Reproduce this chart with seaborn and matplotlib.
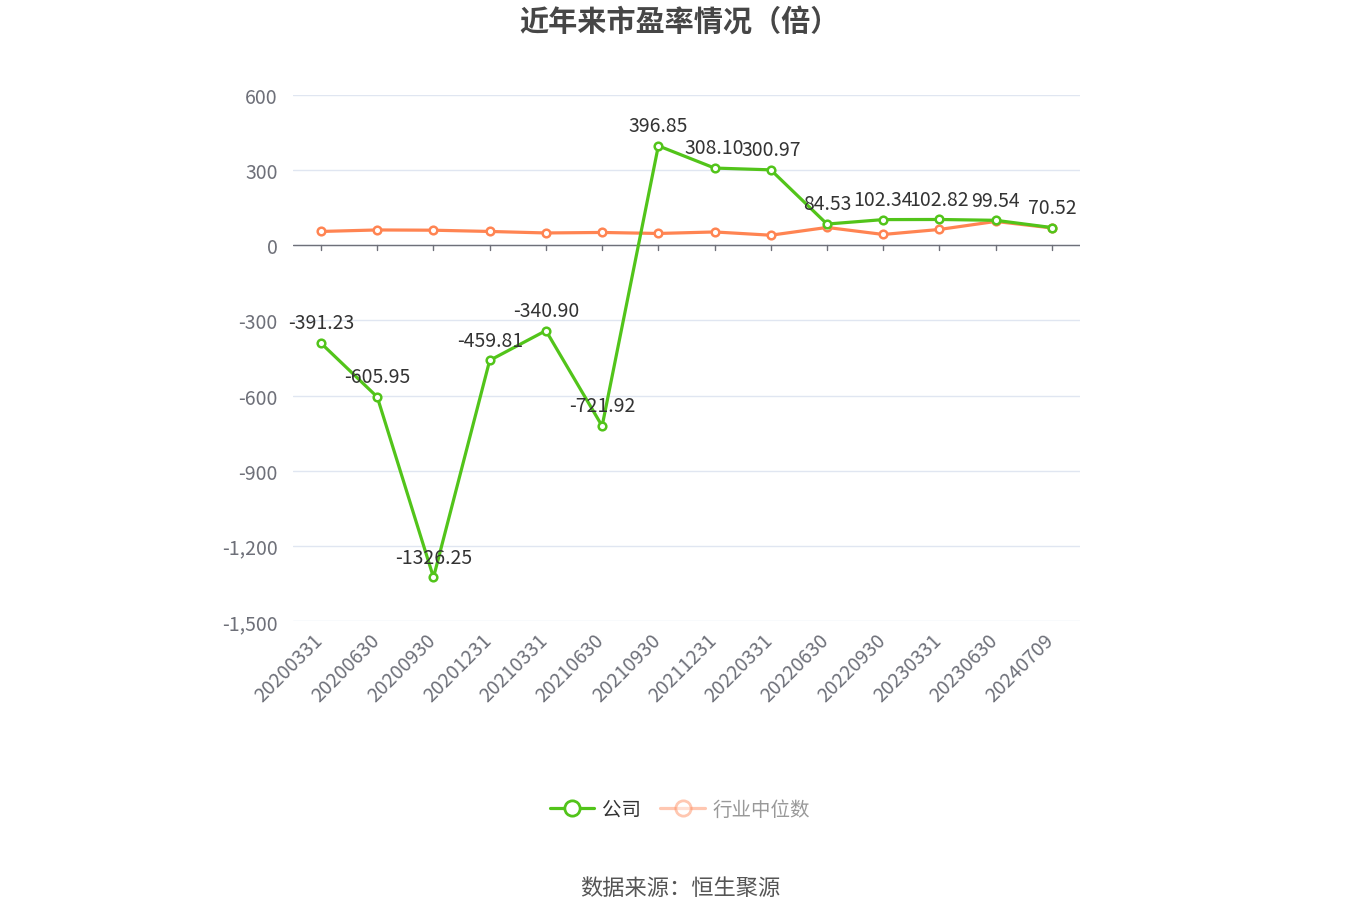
import matplotlib
matplotlib.use("Agg")
import matplotlib.pyplot as plt
import matplotlib.transforms as mtransforms
import seaborn as sns
import pandas as pd
import numpy as np
from matplotlib.lines import Line2D
from matplotlib.ticker import FuncFormatter

dates = ["20200331", "20200630", "20200930", "20201231", "20210331", "20210630",
         "20210930", "20211231", "20220331", "20220630", "20220930", "20230331",
         "20230630", "20240709"]
company = [-391.23, -605.95, -1326.25, -459.81, -340.90, -721.92, 396.85,
           308.10, 300.97, 84.53, 102.34, 102.82, 99.54, 70.52]
industry = [55, 61, 60, 55, 49, 51, 47, 53, 40, 71, 43, 63, 95, 69]
yticks = [600, 300, 0, -300, -600, -900, -1200, -1500]

sns.set_theme(style="white")
plt.rcParams['font.family'] = ['Noto Sans CJK SC', 'DejaVu Sans']

GREEN = "#52c41a"
ORANGE = "#ff8452"

df = pd.DataFrame({"x": np.arange(len(dates)), "company": company, "industry": industry})

fig = plt.figure(figsize=(13.6, 9.2), dpi=100)
ax = fig.add_axes([0.2154, 0.324, 0.5787, 0.5717])

sns.lineplot(data=df, x="x", y="industry", ax=ax, color=ORANGE, linewidth=2.3,
             marker="o", markersize=5.5, markerfacecolor="white",
             markeredgecolor=ORANGE, markeredgewidth=1.8, zorder=3)
sns.lineplot(data=df, x="x", y="company", ax=ax, color=GREEN, linewidth=2.3,
             marker="o", markersize=5.5, markerfacecolor="white",
             markeredgecolor=GREEN, markeredgewidth=1.8, zorder=4)

for i, v in enumerate(company):
    ax.annotate(f"{v:.2f}", (i, v), xytext=(0, 7), textcoords="offset points",
                ha="center", va="bottom", fontsize=14, color="#333333", zorder=5)

ax.set_xlim(-0.5, len(dates) - 0.5)
ax.set_ylim(-1500, 600)
ax.set_yticks(yticks)
ax.yaxis.set_major_formatter(FuncFormatter(lambda v, p: f"{int(v):,}"))
ax.set_xticks(np.arange(len(dates)))
ax.set_xticklabels(dates, rotation=45, ha="right", rotation_mode="anchor")
ax.tick_params(axis="x", colors="#6e7079", labelsize=14, length=0, pad=6)
ax.tick_params(axis="y", colors="#6e7079", labelsize=14, length=0, pad=11)
shift = mtransforms.ScaledTranslation(-6 / 72, 0, fig.dpi_scale_trans)
for lbl in ax.get_xticklabels():
    lbl.set_transform(lbl.get_transform() + shift)
ax.set_xlabel("")
ax.set_ylabel("")
for s in ax.spines.values():
    s.set_visible(False)
ax.grid(axis="y", color="#e0e6f1", linewidth=1)
ax.grid(axis="x", visible=False)
ax.axhline(0, color="#6e7079", linewidth=1, zorder=2)
for i in range(len(dates)):
    ax.plot([i, i], [0, -20], color="#6e7079", linewidth=1, zorder=2)

fig.text(0.5, 0.977, "近年来市盈率情况（倍）", ha="center", va="center",
         fontsize=21, fontweight="bold", color="#464646")

h1 = Line2D([], [], color=GREEN, linewidth=2.3, marker="o", markersize=11,
            markerfacecolor="white", markeredgecolor=GREEN, markeredgewidth=2)
h2 = Line2D([], [], color=ORANGE, alpha=0.45, linewidth=2.3, marker="o", markersize=11,
            markerfacecolor="white", markeredgecolor=ORANGE, markeredgewidth=2)
leg = fig.legend([h1, h2], ["公司", "行业中位数"], loc="center", bbox_to_anchor=(0.5, 0.119),
                 ncol=2, frameon=False, fontsize=14, handlelength=2.3, columnspacing=1.0,
                 handletextpad=0.4)
leg.get_texts()[0].set_color("#333333")
leg.get_texts()[1].set_color("#999999")

fig.text(0.5, 0.034, "数据来源：恒生聚源", ha="center", va="center",
         fontsize=16, color="#555555")

fig.savefig("out.png", dpi=100)
